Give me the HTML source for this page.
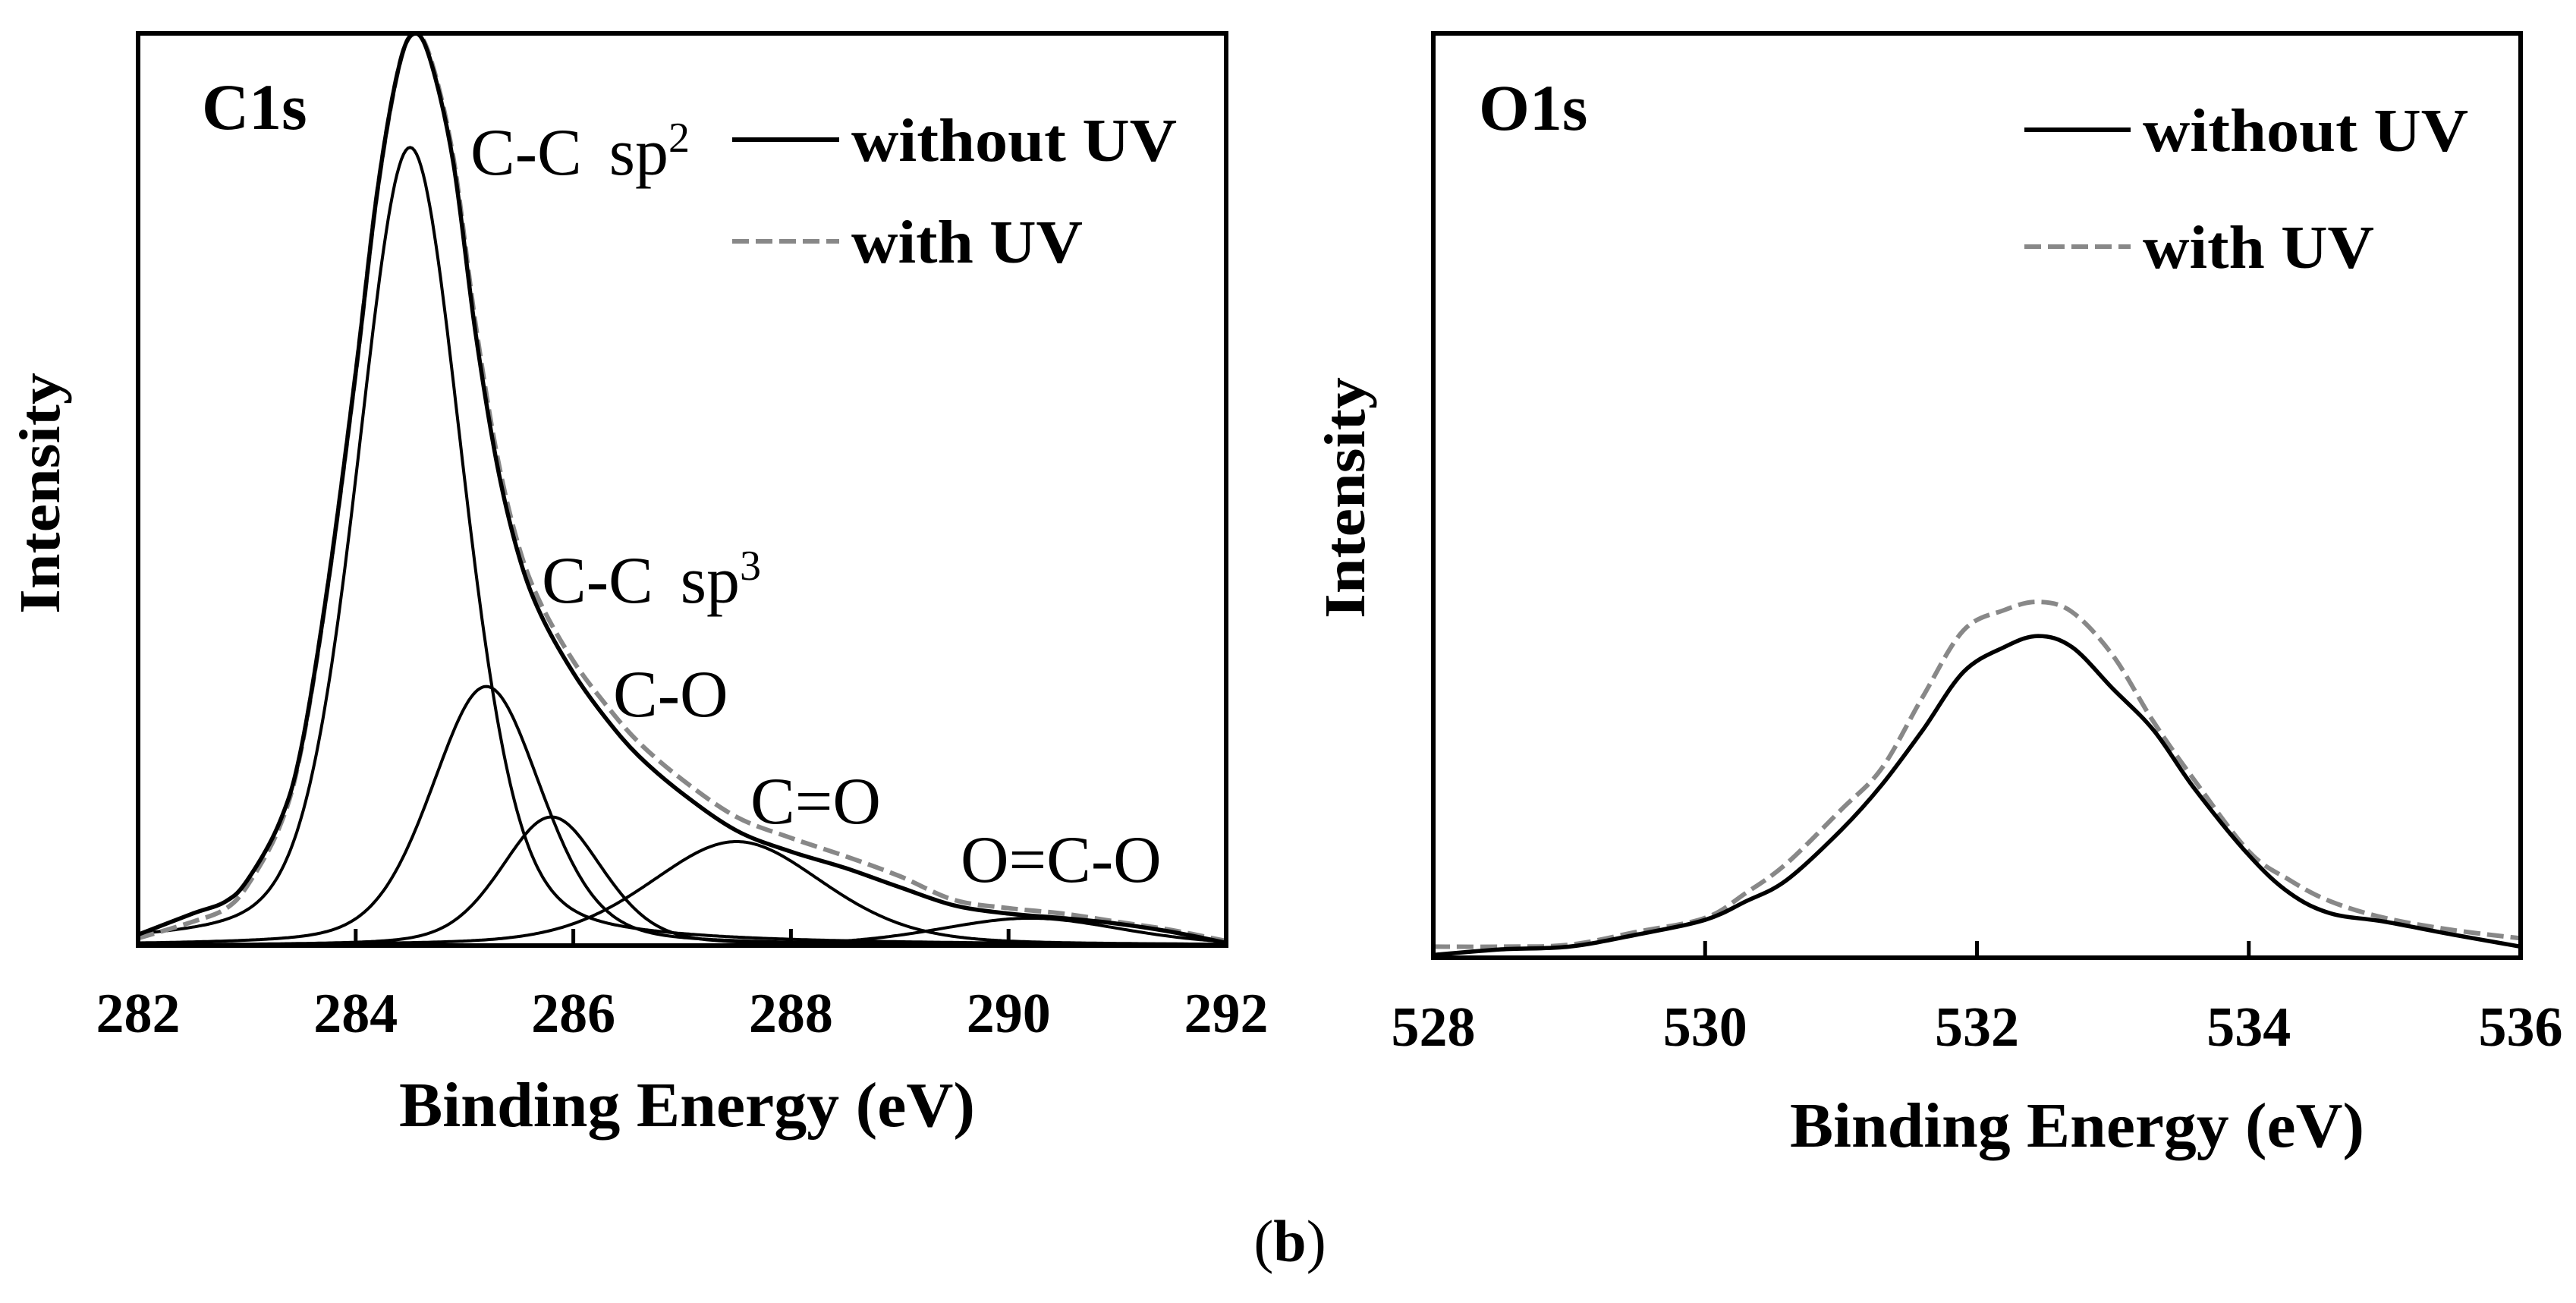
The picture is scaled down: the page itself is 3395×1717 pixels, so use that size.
<!DOCTYPE html>
<html><head><meta charset="utf-8">
<style>html,body{margin:0;padding:0;background:#fff}svg{display:block}
text{font-family:"Liberation Serif",serif}</style></head>
<body>
<svg id="fig" width="3395" height="1717" viewBox="0 0 3395 1717" xmlns="http://www.w3.org/2000/svg">
<g id="left"></g>
<g id="right"></g>
<text x="1700" y="1662" font-size="78" text-anchor="middle">(<tspan font-weight="bold">b</tspan>)</text>
</svg>
<script>
// ---- C1s data ----
const c1sEnergy   = [282.0,282.5,282.8,283.0,283.3,283.5,283.75,284.0,284.2,284.4,284.55,284.7,284.9,285.1,285.3,285.5,285.7,286.0,286.3,286.6,287.0,287.5,288.0,288.5,289.0,289.5,290.0,290.5,291.0,291.5,292.0];
const c1sWithout  = [1.2,3.5,4.8,7.1,13.5,21.7,40,62.8,82.8,96.5,100,96.5,85.6,67.3,52.7,42.7,36.3,29.9,24.9,20.8,16.7,12.6,10.3,8.5,6.4,4.4,3.5,3.0,2.4,1.5,0.3];
const c1sWith     = [0.8,2.6,4.0,6.5,13.0,21.5,40,62.8,82.8,96.5,100,96.8,86.2,68.3,53.7,43.7,37.5,31.2,26.4,22.3,18.2,14.1,11.8,9.8,7.6,5.0,4.1,3.5,2.6,1.7,0.5];
const compNames   = ["C-C sp2","C-C sp3","C-O","C=O","O=C-O"];
const compCenter  = [284.5,285.2,285.8,287.5,290.2];
const compHeight  = [87.5,28.4,14.1,11.4,3.0];
const compFwhm    = [1.15,1.2,1.1,1.9,2.0];
const compStart   = [282,282,282,282,288.2];
const c1sTicks    = [282,284,286,288,290,292];
// ---- O1s data ----
const o1sEnergy   = [528.0,528.5,529.0,529.5,530.0,530.3,530.6,531.0,531.3,531.6,531.9,532.2,532.45,532.7,533.0,533.3,533.6,534.0,534.3,534.6,535.0,535.5,536.0];
const o1sWithout  = [0.3,0.9,1.2,2.5,4.1,6.1,8.4,13.8,18.7,24.6,30.9,33.6,34.8,33.6,29.1,24.6,18.3,11.1,7.0,4.8,3.9,2.5,1.2];
const o1sWith     = [1.2,1.2,1.4,2.8,4.3,7.0,10.2,16.0,20.5,28.2,35.4,37.6,38.5,37.4,32.7,25.5,19.2,11.5,8.4,6.1,4.3,3.0,2.1];
const o1sTicks    = [528,530,532,534,536];

const NS="http://www.w3.org/2000/svg";
function mk(parent,tag,attrs,txt){const e=document.createElementNS(NS,tag);for(const k in attrs)e.setAttribute(k,attrs[k]);if(txt!=null)e.textContent=txt;parent.appendChild(e);return e;}
function smooth(pts){
  let d="M"+pts[0][0].toFixed(1)+","+pts[0][1].toFixed(1);
  for(let i=0;i<pts.length-1;i++){
    const p0=pts[Math.max(0,i-1)],p1=pts[i],p2=pts[i+1],p3=pts[Math.min(pts.length-1,i+2)];
    const c1=[p1[0]+(p2[0]-p0[0])/6,p1[1]+(p2[1]-p0[1])/6];
    const c2=[p2[0]-(p3[0]-p1[0])/6,p2[1]-(p3[1]-p1[1])/6];
    d+="C"+c1.map(v=>v.toFixed(1)).join(",")+" "+c2.map(v=>v.toFixed(1)).join(",")+" "+p2[0].toFixed(1)+","+p2[1].toFixed(1);
  }
  return d;
}

function panel(g,cfg){
  const {x0,x1,y0,y1,emin,emax}=cfg;
  const sx=e=>x0+(e-emin)/(emax-emin)*(x1-x0);
  const sy=v=>y1-v/100*(y1-y0);
  const clipId=cfg.id+"clip";
  const cp=mk(g,"clipPath",{id:clipId});mk(cp,"rect",{x:x0,y:y0-2,width:x1-x0,height:y1-y0+2});
  const plot=mk(g,"g",{"clip-path":"url(#"+clipId+")"});
  
  
  (cfg.comps||[]).forEach(c=>{
    let d="";
    for(let e=c.start;e<=emax+0.001;e+=0.02){
      const dd=e-c.c, w=c.w;
      const v=c.h*(0.7*Math.exp(-4*Math.LN2*dd*dd/(w*w))+0.3/(1+4*dd*dd/(w*w)));
      d+=(d?"L":"M")+sx(e).toFixed(1)+","+sy(v).toFixed(1);
    }
    const p=mk(plot,"path",{d:d,fill:"none",stroke:"#000","stroke-width":4});
    
    
  });
  const line=(xs,ys)=>smooth(xs.map((e,i)=>[sx(e),sy(ys[i])]));
  const pw=mk(plot,"path",{d:line(cfg.E,cfg.with),fill:"none",stroke:"#888","stroke-width":6,"stroke-dasharray":"22 9","stroke-linejoin":"round"});
  
  
  const po=mk(plot,"path",{d:line(cfg.E,cfg.without),fill:"none",stroke:"#000","stroke-width":5.5,"stroke-linejoin":"round"});
  
  
  const fr=mk(g,"rect",{x:x0,y:y0,width:x1-x0,height:y1-y0,fill:"none",stroke:"#000","stroke-width":6});
  
  
  cfg.ticks.forEach(t=>{
    const tm=mk(g,"line",{x1:sx(t),x2:sx(t),y1:y1,y2:y1-22,stroke:"#000","stroke-width":5});
    
    
    const tl=mk(g,"text",{x:sx(t),y:cfg.tickY,"font-size":74,"font-weight":"bold","text-anchor":"middle"},String(t));
    
    
  });
  const xt=mk(g,"text",{x:cfg.titleX,y:cfg.titleY,"font-size":84,"font-weight":"bold",textLength:cfg.titleW,lengthAdjust:"spacingAndGlyphs"},"Binding Energy (eV)");
  
  
  const yt=mk(g,"text",{x:0,y:0,"font-size":76,"font-weight":"bold","text-anchor":"middle",textLength:318,lengthAdjust:"spacingAndGlyphs",transform:`translate(${cfg.yTitleX},${cfg.yTitleY}) rotate(-90)`},"Intensity");
  
  
  const pl=mk(g,"text",{x:cfg.labX,y:cfg.labY,"font-size":86,"font-weight":"bold"},cfg.label);
  
  
  const L=cfg.leg;
  const l1=mk(g,"line",{x1:L.x0,x2:L.x1,y1:L.y1,y2:L.y1,stroke:"#000","stroke-width":6});
  
  
  const t1=mk(g,"text",{x:L.tx,y:L.y1+28,"font-size":80,"font-weight":"bold",textLength:429,lengthAdjust:"spacingAndGlyphs"},"without UV");
  
  
  const l2=mk(g,"line",{x1:L.x0,x2:L.x1,y1:L.y2,y2:L.y2,stroke:"#888","stroke-width":6,"stroke-dasharray":"22 9"});
  
  
  const t2=mk(g,"text",{x:L.tx,y:L.y2+28,"font-size":80,"font-weight":"bold",textLength:305,lengthAdjust:"spacingAndGlyphs"},"with UV");
  
  
  return {sx,sy};
}

const comps=compNames.map((n,i)=>({name:n,c:compCenter[i],h:compHeight[i],w:compFwhm[i],start:compStart[i]}));
const L=document.getElementById("left");
panel(L,{id:"c1s",x0:182,x1:1616,y0:44,y1:1246,emin:282,emax:292,E:c1sEnergy,without:c1sWithout,with:c1sWith,comps:comps,ticks:c1sTicks,tickY:1360,titleX:526,titleY:1484,titleW:759,yTitleX:78,yTitleY:650,label:"C1s",labX:266,labY:170,leg:{x0:965,x1:1106,y1:184,y2:318,tx:1122}});
const annots=[["C-C sp","2",620,230,"annot-cc-sp2",263],["C-C sp","3",714,794,"annot-cc-sp3",263],["C-O","",808,944,"annot-c-o",0],["C=O","",989,1085,"annot-c-double-o",0],["O=C-O","",1266,1162,"annot-o-c-o",0]];
annots.forEach(a=>{
  const t=mk(L,"text",{x:a[2],y:a[3],"font-size":88,"word-spacing":14});
  
  
  t.appendChild(document.createTextNode(a[0]));
  if(a[1]){mk(t,"tspan",{"font-size":56,dy:-30},a[1]);}
});
panel(document.getElementById("right"),{id:"o1s",x0:1889,x1:3322,y0:44,y1:1262,emin:528,emax:536,E:o1sEnergy,without:o1sWithout,with:o1sWith,ticks:o1sTicks,tickY:1378,titleX:2359,titleY:1511,titleW:757,yTitleX:1798,yTitleY:656,label:"O1s",labX:1949,labY:171,leg:{x0:2668,x1:2808,y1:171,y2:325,tx:2824}});
</script>
</body></html>
